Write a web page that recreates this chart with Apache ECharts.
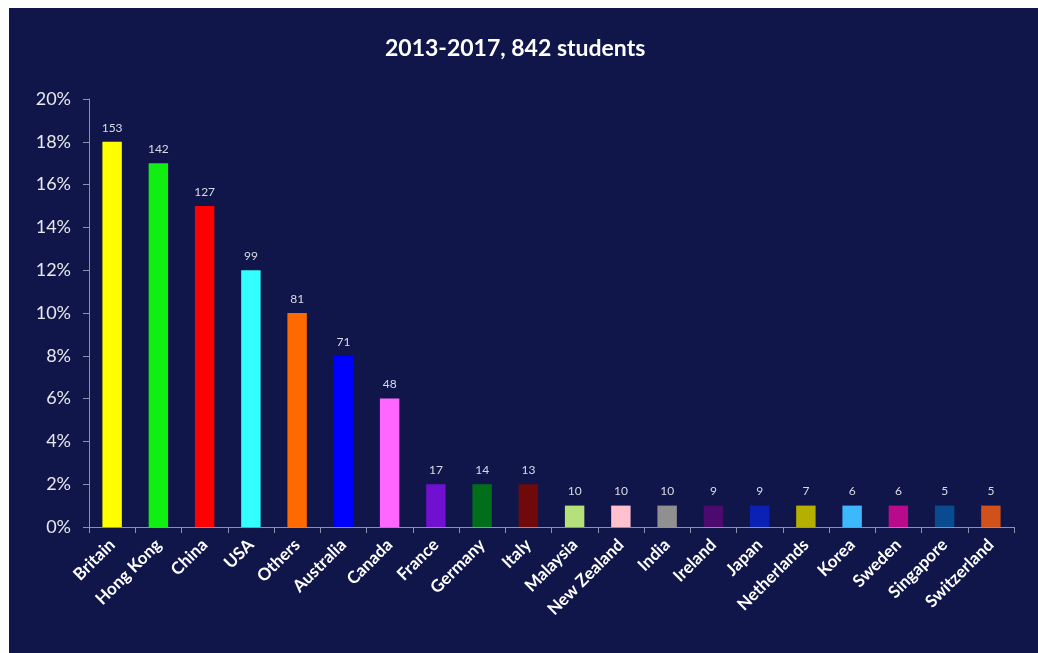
<!DOCTYPE html>
<html><head><meta charset="utf-8">
<script src="https://cdn.jsdelivr.net/npm/echarts@6/dist/echarts.min.js"></script>
<style>
html,body{margin:0;padding:0;background:#ffffff;width:1038px;height:653px;overflow:hidden}
#c{position:absolute;left:9px;top:8px;width:1029px;height:645px}
</style></head><body>
<div id="c"></div>
<script>
const categories = ["Britain","Hong Kong","China","USA","Others","Australia","Canada","France","Germany","Italy","Malaysia","New Zealand","India","Ireland","Japan","Netherlands","Korea","Sweden","Singapore","Switzerland"];
const percents = [18,17,15,12,10,8,6,2,2,2,1,1,1,1,1,1,1,1,1,1];
const counts = [153,142,127,99,81,71,48,17,14,13,10,10,10,9,9,7,6,6,5,5];
const colors = ["#ffff00","#11ee11","#ff0000","#33ffff","#ff6a00","#0000ff","#ff66ff","#7010d0","#006e1a","#700a0a","#b5e07a","#ffc0d0","#909090","#4d0a6e","#0b20b5","#b5b000","#3cb8ff","#b80a8a","#0a4a8e","#d0521a"];
const yTicks = [0,2,4,6,8,10,12,14,16,18,20];

const chart = echarts.init(document.getElementById('c'));
chart.setOption({
  backgroundColor: '#11164a',
  animation: false,
  title: {
    text: '2013-2017, 842 students',
    left: 371,
    top: 24,
    textStyle: {color:'#ffffff', fontSize:23, fontWeight:'bold', fontFamily:'Lato'}
  },
  grid: {left:80, right:24, top:91, bottom:126, containLabel:false},
  xAxis: {
    type:'category',
    data: categories,
    boundaryGap: true,
    axisLine: {lineStyle:{color:'#8a90b0', width:1}},
    axisTick: {show:true, alignWithLabel:false, length:6, lineStyle:{color:'#8a90b0'}},
    axisLabel: {rotate:45, color:'#ffffff', fontSize:17, fontWeight:'bold', fontFamily:'Lato', interval:0, margin:15}
  },
  yAxis: {
    type:'value',
    min: yTicks[0],
    max: yTicks[yTicks.length-1],
    interval: 2,
    splitLine: {show:false},
    axisLine: {show:true, lineStyle:{color:'#8a90b0', width:1}},
    axisTick: {show:true, length:6, lineStyle:{color:'#8a90b0'}},
    axisLabel: {color:'#e8e8ee', fontSize:18, fontFamily:'Lato', margin:18, formatter:'{value}%'}
  },
  series: [{
    type:'bar',
    barWidth:'42%',
    data: percents.map((v,i)=>({value:v, itemStyle:{color:colors[i]}, label:{formatter:String(counts[i])}})),
    label: {show:true, position:'top', distance:8, color:'#d8dae6', fontSize:12, fontFamily:'Lato'}
  }]
});
</script>
</body></html>
